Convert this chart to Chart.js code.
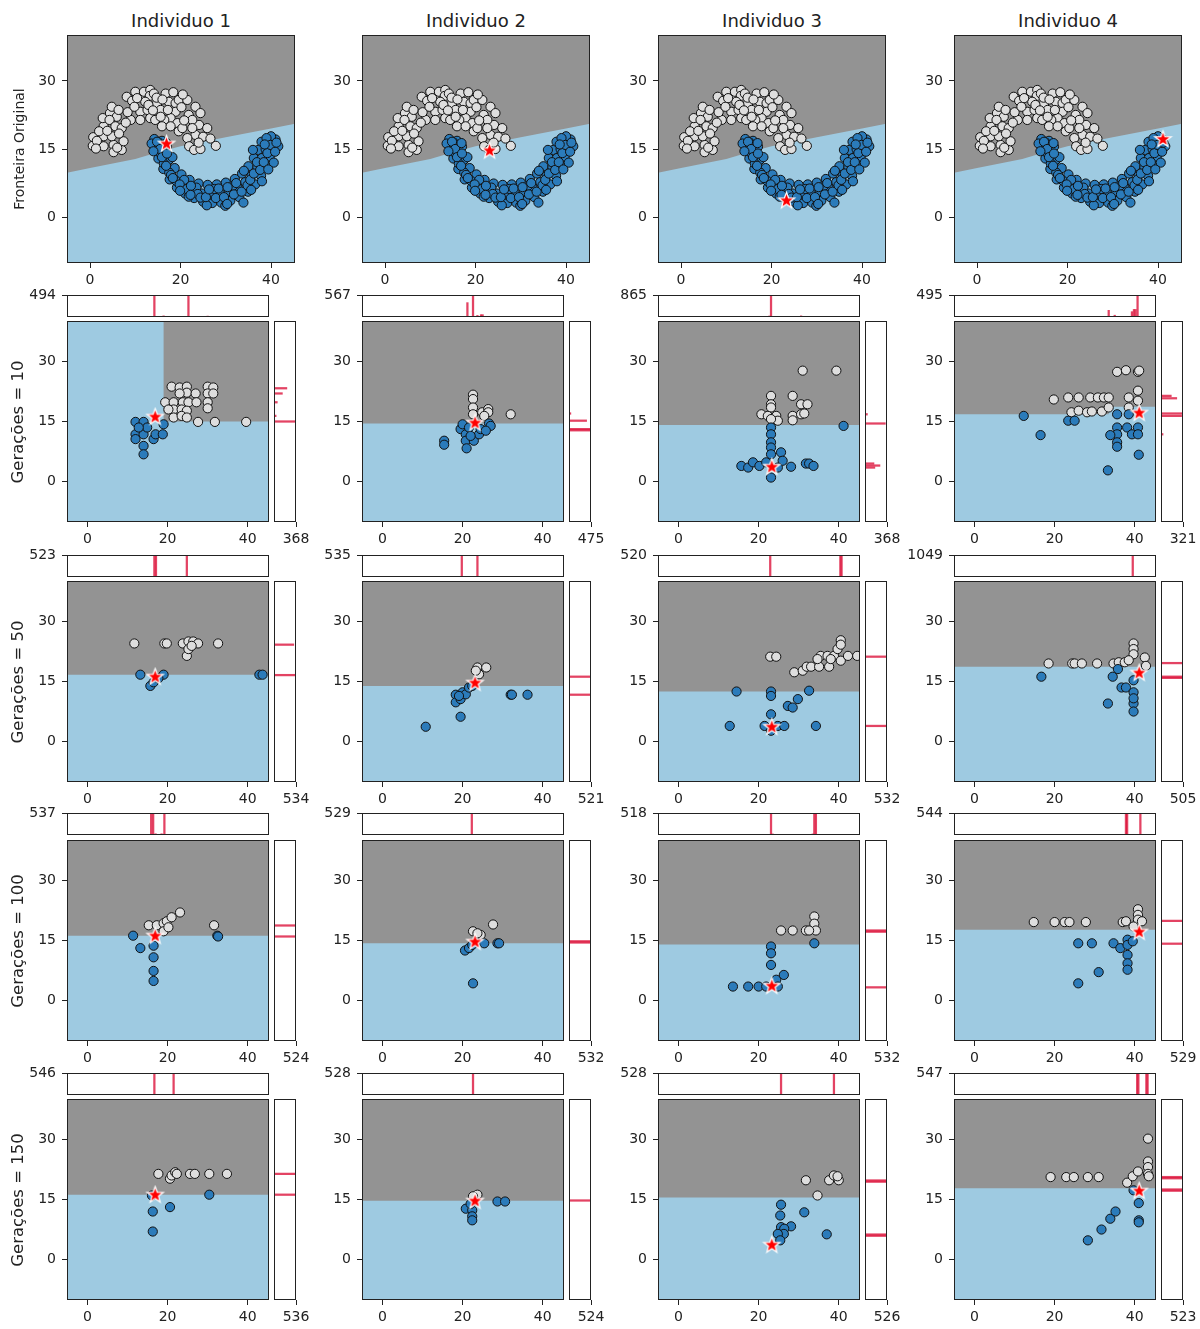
<!DOCTYPE html>
<html>
<head>
<meta charset="utf-8">
<script src="https://cdn.jsdelivr.net/npm/chart.js@4.4.1/dist/chart.umd.min.js"></script>
<style>
  body { margin: 0; background: #fff; width: 1200px; height: 1329px; position: relative; overflow: hidden; font-family: "DejaVu Sans", sans-serif; color: #222; }
  canvas { position: absolute; }
  .title { position: absolute; transform: translate(-50%, -50%); white-space: nowrap; font-size: 18px; }
  .vlabel { position: absolute; transform: translate(-50%, -50%) rotate(-90deg); white-space: nowrap; }
</style>
</head>
<body>
<script>
// ---- data ----
const xLim = [-5.1, 45.3];
const yLim = [-10.1, 40.1];
const xTicks = [0, 20, 40];
const yTicks = [0, 15, 30];
const individuals = ['Individuo 1', 'Individuo 2', 'Individuo 3', 'Individuo 4'];
const generations = [10, 50, 100, 150];
const stars = [[16.9, 16.1], [23.1, 14.6], [23.3, 3.6], [41.1, 17.1]];

const moonWhite = [[0.7,17.6],[0.6,15.7],[3.0,15.6],[5.2,15.9],[5.2,14.3],[7.0,14.8],[3.0,20.0],[2.8,21.8],[4.4,22.9],[5.9,22.1],
  [4.8,24.3],[6.3,23.6],[4.3,21.4],[5.6,20.0],[7.0,19.6],[7.4,16.7],[3.0,17.8],[4.8,17.8],[8.1,26.5],[10.0,27.6],
  [9.3,25.6],[11.5,26.5],[11.9,27.6],[13.3,28.0],[13.2,26.7],[14.1,27.2],[12.2,25.4],[11.1,23.2],[12.7,23.6],[13.3,21.8],
  [14.8,25.0],[15.6,23.6],[14.4,21.4],[16.7,27.2],[17.4,25.4],[18.9,25.1],[19.6,25.8],[21.5,25.8],[18.9,23.2],[17.8,21.8],
  [16.4,21.4],[15.9,20.0],[19.3,20.7],[21.8,22.5],[23.3,24.3],[24.4,22.9],[24.1,20.3],[25.9,19.6],[23.3,18.1],[21.5,17.4],
  [21.9,15.6],[23.0,14.8],[24.4,15.0],[27.8,15.7],[19.6,18.9],[20.4,19.6],[9.0,21.4],[11.1,21.4],[15.6,22.1],[17.8,20.0],
  [1.5,16.8],[2.0,18.9],[3.8,19.0],[6.4,18.4],[6.0,15.3],[8.3,23.1],[9.8,24.3],[10.4,26.2],[12.9,24.7],[14.7,26.3],
  [16.0,25.9],[17.2,23.6],[20.2,24.2],[22.6,21.4],[20.8,21.3],[22.6,19.6],[25.0,17.7],[26.6,17.3],[24.0,16.4],[7.9,20.8],
  [1.3,15.1],[18.4,27.5],[20.5,27.0],[13.9,23.5]];
const moonBlue = [[14.2,17.2],[14.6,15.2],[15.1,12.9],[16.2,10.6],[17.6,8.3],[19.2,6.5],[21.0,5.2],[23.0,4.2],[25.0,3.4],[27.0,3.1],
  [29.0,3.2],[31.0,3.6],[33.0,4.4],[34.9,5.6],[36.5,7.2],[37.8,9.1],[38.9,11.2],[39.7,13.3],[40.4,15.3],[41.0,17.1],
  [15.9,16.8],[16.5,14.6],[17.4,12.6],[18.7,10.8],[20.2,9.4],[22.0,8.2],[24.0,7.4],[26.0,7.1],[28.0,7.2],[30.0,7.6],
  [32.0,8.4],[33.6,9.6],[35.0,11.2],[36.2,13.0],[37.2,14.8],[37.9,16.6],
  [15.2,16.4],[15.6,14.0],[16.3,11.8],[17.5,9.8],[19.0,8.0],[20.8,6.8],[22.7,5.8],[24.7,5.2],[26.7,5.0],[28.7,5.2],
  [30.7,5.6],[32.6,6.5],[34.3,7.7],[35.7,9.2],[37.0,11.0],[38.0,13.0],[38.8,15.0],[39.5,16.8],
  [13.6,16.2],[17.0,15.5],[21.8,4.5],[25.8,2.6],[29.9,2.5],[33.9,3.2],[38.0,7.9],[40.6,12.0],[41.6,15.6],[40.0,17.8],
  [39.0,17.4],[23.5,6.5],[27.5,6.2],[31.6,6.9],[36.0,14.8],[18.2,13.2],[20.8,8.2],[34.0,10.2],
  [14.8,16.6],[15.5,15.0],[15.9,13.2],[16.8,11.3],[17.9,9.3],[18.3,8.6],[19.8,7.2],[21.4,6.2],[22.3,6.9],[23.8,5.1],
  [24.4,4.3],[25.6,4.4],[26.3,6.1],[27.8,4.2],[28.4,6.3],[29.6,4.4],[30.4,6.6],[31.8,5.0],[32.3,7.5],[33.5,5.6],
  [34.8,7.0],[35.4,8.2],[36.2,9.6],[36.9,12.1],[37.6,10.4],[38.4,12.1],[39.2,14.1],[39.9,15.9],[38.6,16.0],[40.9,14.4],
  [41.2,16.4],[16.9,16.3],[14.0,14.5],[17.0,14.0],[19.9,5.8],[22.2,4.9],[30.3,2.9],[35.6,6.0],[39.4,10.5]];
const originalBoundary = [[-6,9.6],[0,10.8],[10,12.8],[15,14.3],[20,15.6],[30,17.6],[40,19.5],[46,20.7]];

const g10White = [
  [[21,23.7],[23,23.5],[24.8,23.7],[24.8,22.2],[23,22],[27,22],[30,23.7],[31.4,23.5],[30,22],[31.4,22],[19.4,19.8],[21.5,19.8],[23.8,19.8],[25.2,19.8],[27.2,19.8],[30,19.8],[30,18.3],[21.5,18],[23.5,18],[24.8,17.7],[21.5,16],[23.5,16.4],[24.8,16],[27.6,14.9],[31.8,14.9],[39.6,14.9],[20.2,18]],
  [[22.6,21.7],[22.6,20.6],[22.6,18.5],[22.6,16.8],[24.9,17.3],[26.4,18.1],[26.4,17.3],[32,16.8],[25.4,16.4]],
  [[31,27.7],[39.4,27.7],[23.1,21.4],[23.1,19.3],[23.1,18.5],[28.5,21.4],[30.6,19.3],[32.2,19.3],[20.7,16.8],[22.3,16.4],[24.4,16.4],[24.8,15.2],[28.5,16.4],[30.6,16.8],[31.4,17],[28.5,15.3],[23.1,15.6]],
  [[35.6,27.4],[37.8,27.8],[40.8,27.4],[41.1,27.7],[19.8,20.5],[23.4,21],[26,21],[28.9,21],[30.8,21],[32.3,21],[33.5,21],[38.5,21],[40.8,22.7],[24.2,17.3],[26,17.7],[28.1,17.3],[29.3,17.5],[31.8,17.5],[33.5,18.5],[38.5,18.5],[40.8,20.2]]
];
const g10Blue = [
  [[12,14.9],[14,14.9],[12,11.8],[12,10.6],[14,11.8],[14,8.9],[14,6.8],[16.5,10.6],[17,11.8],[18.8,11.8],[19,14.3],[14.9,13.5],[12.8,13.5]],
  [[15.4,10.2],[15.4,9.2],[19.5,13.1],[20,14.3],[20.8,11.8],[20.8,10.2],[21,8.3],[21.6,13.5],[22.8,10.2],[24.1,11.8],[24.5,13.1],[26.6,14.5],[27,13.9],[25.8,12.7],[22,11.4]],
  [[23.1,13.5],[23.1,11.8],[23.1,9.8],[23.1,8.5],[23.1,6.8],[15.7,3.9],[17.4,3.5],[18.6,4.8],[20.2,3.9],[23.1,1],[25.6,7.3],[26,5.2],[28.1,3.7],[31.8,4.5],[32.6,4.5],[33.7,3.9],[41.2,13.9],[21.9,4.8],[24.8,3.5]],
  [[12.3,16.4],[16.5,11.6],[23.4,15.2],[25,15.2],[35.6,16.8],[35.6,13.5],[35.6,11.8],[35.6,9.8],[35.6,8.7],[33.9,11.6],[33.3,2.8],[38.1,13.5],[39.3,11.8],[40.8,13.5],[40.8,11.8],[41,6.7],[38.5,16.8]]
];
const g10Boundary = [
  [[-6,41],[19,41],[19,15],[46,15]],
  [[-6,14.5],[46,14.5]],
  [[-6,14.1],[46,14.1]],
  [[-6,16.8],[33.5,16.8],[33.5,18.7],[46,18.7]]
];
const g10HistX = [
  [[16.7,494],[19.0,25],[25.2,480],[30.0,20]],
  [[21.2,370],[22.6,567],[23.7,40],[24.6,60],[25.0,60]],
  [[22.7,40],[23.1,865],[30.6,45]],
  [[33.5,150],[35.0,40],[39.3,120],[39.8,170],[40.2,170],[40.7,495]]
];
const g10HistY = [
  [[23.3,215],[22.0,140],[19.8,55],[16.4,35],[15.0,368]],
  [[17.0,40],[15.2,380],[13.1,475],[12.8,470]],
  [[16.8,40],[14.5,340],[4.5,150],[4.0,250],[3.5,165]],
  [[21.4,150],[20.8,230],[17.0,321],[16.4,300],[11.8,30]]
];
const g10MaxX = [494, 567, 865, 495];
const g10MaxY = [368, 475, 368, 321];

const g50White = [
  [[11.7,24.5],[19.2,24.5],[19.8,24.5],[23.8,24.5],[25.2,25],[26.4,25],[27.6,24.5],[32.6,24.5],[24.8,21.4],[25.2,23.1],[26,23.9]],
  [[23.7,18.5],[25.9,18.5],[24.1,16.8],[23.3,17.7]],
  [[22.9,21.2],[24.4,21.2],[28.9,17.3],[31,17.7],[32,18.7],[33.1,18.7],[35.1,18.7],[35.5,21.4],[37.2,21.4],[37.6,18.7],[38.8,21.4],[39.7,23.1],[40.5,25.3],[40.5,24.2],[40.5,20.2],[42.3,21.4],[44.6,21.4],[34.7,20.6],[38,20.6]],
  [[18.5,19.5],[24.4,19.5],[25,19.5],[26.8,19.5],[30.6,19.5],[34.7,19.5],[36,19.8],[37.5,19.8],[39.7,24.5],[39.7,23.1],[39.7,21.8],[42.5,21],[42.8,18.9],[38.5,20.3]]
];
const g50Blue = [
  [[13.2,16.7],[15.7,13.9],[16.5,14.8],[19,16.7],[42.9,16.7],[43.7,16.7],[17.7,15.8]],
  [[10.8,3.7],[19.5,6.2],[18.3,11.7],[18.3,9.8],[19.5,10.6],[20,12.3],[20.8,11.8],[19.1,11.4],[21.6,13.5],[32,11.7],[32.3,11.7],[36.2,11.7],[22.4,13.9]],
  [[14.5,12.5],[12.8,3.9],[23.1,12.5],[23.1,11.4],[23.1,6.8],[21.5,3.9],[24.8,3.9],[26.4,3.9],[27.3,8.9],[28.5,8.5],[29.8,10.6],[32.6,12.7],[34.3,3.9],[23.1,2.7]],
  [[16.7,16.2],[34.5,16.2],[35.8,18.1],[36.7,13.5],[37.8,13.5],[33.3,9.5],[39.7,15.3],[39.7,12.3],[39.7,9.5],[39.7,7.5],[39.7,10.8]]
];
const g50Boundary = [[[-6,16.7],[46,16.7]], [[-6,13.9],[46,13.9]], [[-6,12.5],[46,12.5]], [[-6,18.7],[46,18.7]]];
const g50HistX = [[[16.7,523],[17.1,523],[24.8,510]], [[19.8,535],[23.7,520]], [[22.9,520],[40.4,515],[40.7,515]], [[39.5,1049]]];
const g50HistY = [[[24.2,480],[16.6,534]], [[16.2,521],[11.7,500]], [[21.2,532],[3.9,532]], [[19.6,480],[16.2,505],[15.9,505]]];
const g50MaxX = [523, 535, 520, 1049];
const g50MaxY = [534, 521, 532, 505];

const g100White = [
  [[15.3,18.8],[17.3,18.8],[19,19.3],[19.8,19.8],[21,20.8],[23.1,22],[19,17.3],[20.2,18.3],[31.6,18.8]],
  [[27.6,19],[22.6,17.3],[24.5,16.4],[23.7,16.8]],
  [[25.6,17.5],[28.5,17.5],[31.8,17.5],[33.9,21],[33.9,19.2],[34.3,17.5],[32.6,17.5]],
  [[14.8,19.6],[20,19.6],[22.5,19.6],[23.7,19.6],[27.8,19.6],[37,19.6],[37.8,19.8],[40.8,22.8],[40.8,21.4],[40.8,20.2],[41.8,19.8],[39.7,18.5]]
];
const g100Blue = [
  [[11.4,16.2],[13.2,13.1],[16.5,13.7],[16.5,10.8],[16.5,7.4],[16.5,4.9],[32.4,16.2],[32.6,16]],
  [[20.6,12.5],[21.6,13.1],[25.4,14.3],[28.7,14.3],[29.1,14.3],[22.6,4.3],[22.4,13.9]],
  [[23.1,13.5],[23.1,11.8],[23.1,8.9],[13.6,3.5],[17.4,3.5],[20,3.5],[21.9,3.5],[24.4,5.2],[26.3,6.4],[24.8,3.5],[33.9,14.3]],
  [[25.9,14.3],[29.3,14.3],[34.7,14.3],[36.4,13.1],[38.2,15.2],[38.2,13.9],[38.2,11.4],[38.2,9.3],[38.2,7.7],[31,7.1],[25.9,4.3],[39.5,14.8]]
];
const g100Boundary = [[[-6,16.2],[46,16.2]], [[-6,14.3],[46,14.3]], [[-6,14.0],[46,14.0]], [[-6,17.7],[46,17.7]]];
const g100HistX = [[[15.9,537],[16.4,520],[17.0,30],[18.5,30],[19.2,520]], [[22.3,529]], [[23.1,500],[23.5,25],[33.5,25],[33.9,518],[34.3,518]], [[37.8,544],[38.1,544],[41.4,540]]];
const g100HistY = [[[18.75,500],[16.0,524]], [[14.5,532],[14.8,532]], [[17.5,532],[17.2,532],[3.3,520]], [[19.9,529],[14.2,529]]];
const g100MaxX = [537, 529, 518, 544];
const g100MaxY = [524, 532, 532, 529];

const g150White = [
  [[17.7,21.4],[20.6,20.2],[21,21],[21.9,21.8],[22.3,21.4],[25.6,21.4],[26.8,21.4],[30.4,21.4],[34.8,21.4]],
  [[23.7,16.2],[22.6,15.8]],
  [[31.8,19.8],[34.7,16],[37.6,19.8],[38.8,21],[40,19.8],[39.7,20.8]],
  [[19,20.6],[22.9,20.6],[24.8,20.6],[28.3,20.6],[31,20.6],[38.1,19.2],[39.5,20.8],[40.8,22],[43.3,30.2],[43.3,24.5],[43.3,23.1],[43.3,21.4],[43.5,20.8]]
];
const g150Blue = [
  [[16.3,12],[16.3,7],[20.6,13.1],[30.4,16.2],[16.1,16]],
  [[20.8,12.7],[22.4,12.3],[22.4,10.8],[22.4,9.8],[28.7,14.5],[30.6,14.5],[22,13.9]],
  [[25.6,13.7],[25.4,11],[31.4,11.8],[28.1,8.3],[25.6,8.1],[26.4,7.7],[26.3,6.4],[24.8,6.4],[25.4,4.8],[37,6.3]],
  [[28.3,4.8],[31.7,7.5],[33.9,10.2],[35.2,12],[41,14.1],[41,9.8],[41,9.3],[39.7,17.3]]
];
const g150Boundary = [[[-6,16.2],[46,16.2]], [[-6,14.7],[46,14.7]], [[-6,15.5],[46,15.5]], [[-6,17.8],[46,17.8]]];
const g150HistX = [[[16.7,546],[21.5,540]], [[22.6,528]], [[25.6,528],[38.8,520]], [[40.6,547],[40.9,547],[42.9,547],[43.2,547]]];
const g150HistY = [[[21.4,536],[16.2,536]], [[14.75,524]], [[19.75,526],[19.45,526],[6.25,526],[5.95,526]], [[20.6,523],[20.3,523],[17.5,523],[17.2,523]]];
const g150MaxX = [546, 528, 528, 547];
const g150MaxY = [536, 524, 526, 523];

// ---- layout / style ----
const colLeft = [67, 362, 658, 954];
const mainW = 202, topW = 228, topRowTop = 35, topRowH = 228;
const histTop = [295, 555, 813, 1073];
const mainTop = [321, 581, 840, 1099];
const mainH = 201, histH = 22, sideW = 22, sideGap = 5;
const AX_W = 55, AX_H = 30, PAD = 4;
const GRAY = '#939393', LIGHTBLUE = '#9ecae1', BLUE = '#2b7bba', WHITE = '#dedede';
const HIST = 'rgba(220,20,60,0.8)', INK = '#222';
const tickFont = { family: 'DejaVu Sans', size: 14 };

const genRows = [
  { white: g10White, blue: g10Blue, bound: g10Boundary, hx: g10HistX, hy: g10HistY, mx: g10MaxX, my: g10MaxY },
  { white: g50White, blue: g50Blue, bound: g50Boundary, hx: g50HistX, hy: g50HistY, mx: g50MaxX, my: g50MaxY },
  { white: g100White, blue: g100Blue, bound: g100Boundary, hx: g100HistX, hy: g100HistY, mx: g100MaxX, my: g100MaxY },
  { white: g150White, blue: g150Blue, bound: g150Boundary, hx: g150HistX, hy: g150HistY, mx: g150MaxX, my: g150MaxY }
];

// gray/blue decision regions, split along the boundary line
const regions = {
  id: 'regions',
  beforeDatasetsDraw(chart, args, opts) {
    if (!opts.boundary) return;
    const { ctx, chartArea: a, scales: { x, y } } = chart;
    ctx.save();
    ctx.beginPath();
    ctx.rect(a.left, a.top, a.right - a.left, a.bottom - a.top);
    ctx.clip();
    ctx.fillStyle = GRAY;
    ctx.fillRect(a.left, a.top, a.right - a.left, a.bottom - a.top);
    ctx.beginPath();
    ctx.moveTo(x.getPixelForValue(-6), y.getPixelForValue(-11));
    opts.boundary.forEach(p => ctx.lineTo(x.getPixelForValue(p[0]), y.getPixelForValue(p[1])));
    ctx.lineTo(x.getPixelForValue(46), y.getPixelForValue(-11));
    ctx.closePath();
    ctx.fillStyle = LIGHTBLUE;
    ctx.fill();
    ctx.restore();
  }
};

const frame = {
  id: 'frame',
  afterDraw(chart) {
    const { ctx, chartArea: a } = chart;
    ctx.save();
    ctx.strokeStyle = INK;
    ctx.lineWidth = 1;
    ctx.strokeRect(Math.round(a.left) + 0.5, Math.round(a.top) + 0.5,
      Math.round(a.right - a.left) - 1, Math.round(a.bottom - a.top) - 1);
    ctx.restore();
  }
};

function starImage(r) {
  const c = document.createElement('canvas');
  const s = Math.ceil(r * 2 + 4);
  c.width = c.height = s;
  const g = c.getContext('2d');
  g.translate(s / 2, s / 2);
  g.beginPath();
  for (let i = 0; i < 10; i++) {
    const rr = i % 2 ? r * 0.42 : r;
    const ang = -Math.PI / 2 + i * Math.PI / 5;
    g.lineTo(rr * Math.cos(ang), rr * Math.sin(ang));
  }
  g.closePath();
  g.fillStyle = '#ff0000';
  g.fill();
  g.strokeStyle = '#ffffff';
  g.lineWidth = 1.3;
  g.stroke();
  return c;
}
const starImg = starImage(8.5);

function addCanvas(left, top, w, h) {
  const cv = document.createElement('canvas');
  cv.width = w; cv.height = h;
  cv.style.left = left + 'px';
  cv.style.top = top + 'px';
  document.body.appendChild(cv);
  return cv;
}

// fixed-size axis: no automatic label-overflow padding, so the plot box stays where it is put
function fixSize(s, size, vertical) {
  if (vertical) s.width = size; else s.height = size;
  s.paddingTop = 0; s.paddingBottom = 0; s.paddingLeft = 0; s.paddingRight = 0;
}
function shownAxis(lim, ticks, size, pos) {
  return {
    type: 'linear', position: pos, min: lim[0], max: lim[1], offset: false,
    afterBuildTicks: s => { s.ticks = ticks.map(v => ({ value: v })); },
    afterFit: s => fixSize(s, size, pos === 'left'),
    grid: { display: true, drawOnChartArea: false, drawTicks: true, tickLength: 5, color: INK, offset: false },
    border: { display: false },
    ticks: { color: INK, font: tickFont, padding: pos === 'left' ? 6 : 4, maxRotation: 0, autoSkip: false, callback: v => String(v) }
  };
}
function hiddenAxis(lim) {
  return { type: 'linear', display: false, min: lim[0], max: lim[1], offset: false, grid: { offset: false } };
}
const pts = arr => arr.map(p => ({ x: p[0], y: p[1] }));
const baseOpts = { responsive: false, animation: false, events: [] };

function mainChart(L, T, W, H, white, blue, star, boundary) {
  const cv = addCanvas(L - AX_W, T - PAD, W + AX_W + PAD, H + PAD + AX_H);
  new Chart(cv, {
    type: 'scatter',
    data: { datasets: [
      { data: pts([star]), pointStyle: starImg, pointRadius: 9 },
      { data: pts(blue), backgroundColor: BLUE, borderColor: '#111', borderWidth: 1, pointRadius: 4.6 },
      { data: pts(white), backgroundColor: WHITE, borderColor: '#111', borderWidth: 1, pointRadius: 4.6 }
    ] },
    options: Object.assign({}, baseOpts, {
      layout: { autoPadding: false, padding: { left: 0, top: PAD, right: PAD, bottom: 0 } },
      plugins: { legend: { display: false }, tooltip: { enabled: false }, regions: { boundary } },
      scales: { x: shownAxis(xLim, xTicks, AX_H, 'bottom'), y: shownAxis(yLim, yTicks, AX_W, 'left') }
    }),
    plugins: [regions, frame]
  });
}

function topHist(L, T, W, H, hist, max) {
  const cv = addCanvas(L - AX_W, T - 10, W + AX_W + PAD, H + 12);
  new Chart(cv, {
    type: 'bar',
    data: { datasets: [{ data: pts(hist), backgroundColor: HIST, barThickness: 1.6, borderWidth: 0 }] },
    options: Object.assign({}, baseOpts, {
      layout: { autoPadding: false, padding: { left: 0, top: 10, right: PAD, bottom: 2 } },
      plugins: { legend: { display: false }, tooltip: { enabled: false } },
      scales: { x: hiddenAxis(xLim), y: shownAxis([0, max], [max], AX_W, 'left') }
    }),
    plugins: [frame]
  });
}

function sideHist(L, T, W, H, hist, max) {
  const cv = addCanvas(L - PAD, T - PAD, W + PAD + 18, H + PAD + AX_H);
  new Chart(cv, {
    type: 'bar',
    data: { datasets: [{ data: hist.map(h => ({ x: h[1], y: h[0] })), backgroundColor: HIST, barThickness: 1.6, borderWidth: 0 }] },
    options: Object.assign({}, baseOpts, {
      indexAxis: 'y',
      layout: { autoPadding: false, padding: { left: PAD, top: PAD, right: 18, bottom: 0 } },
      plugins: { legend: { display: false }, tooltip: { enabled: false } },
      scales: { y: hiddenAxis(yLim), x: shownAxis([0, max], [max], AX_H, 'bottom') }
    }),
    plugins: [frame]
  });
}

function addLabel(cls, text, cx, cy, size) {
  const d = document.createElement('div');
  d.className = cls;
  d.textContent = text;
  d.style.left = cx + 'px';
  d.style.top = cy + 'px';
  if (size) d.style.fontSize = size + 'px';
  document.body.appendChild(d);
}

// top row: original boundary on the two moons
for (let c = 0; c < 4; c++) {
  mainChart(colLeft[c], topRowTop, topW, topRowH, moonWhite, moonBlue, stars[c], originalBoundary);
}
// generation rows
genRows.forEach((row, r) => {
  for (let c = 0; c < 4; c++) {
    const L = colLeft[c];
    mainChart(L, mainTop[r], mainW, mainH, row.white[c], row.blue[c], stars[c], row.bound[c]);
    topHist(L, histTop[r], mainW, histH, row.hx[c], row.mx[c]);
    sideHist(L + mainW + sideGap, mainTop[r], sideW, mainH, row.hy[c], row.my[c]);
  }
});

individuals.forEach((t, c) => addLabel('title', t, colLeft[c] + topW / 2, 20));
addLabel('vlabel', 'Fronteira Original', 19, topRowTop + topRowH / 2, 14);
generations.forEach((g, r) => addLabel('vlabel', 'Gerações = ' + g, 17, mainTop[r] + mainH / 2, 16.5));
</script>
</body>
</html>
